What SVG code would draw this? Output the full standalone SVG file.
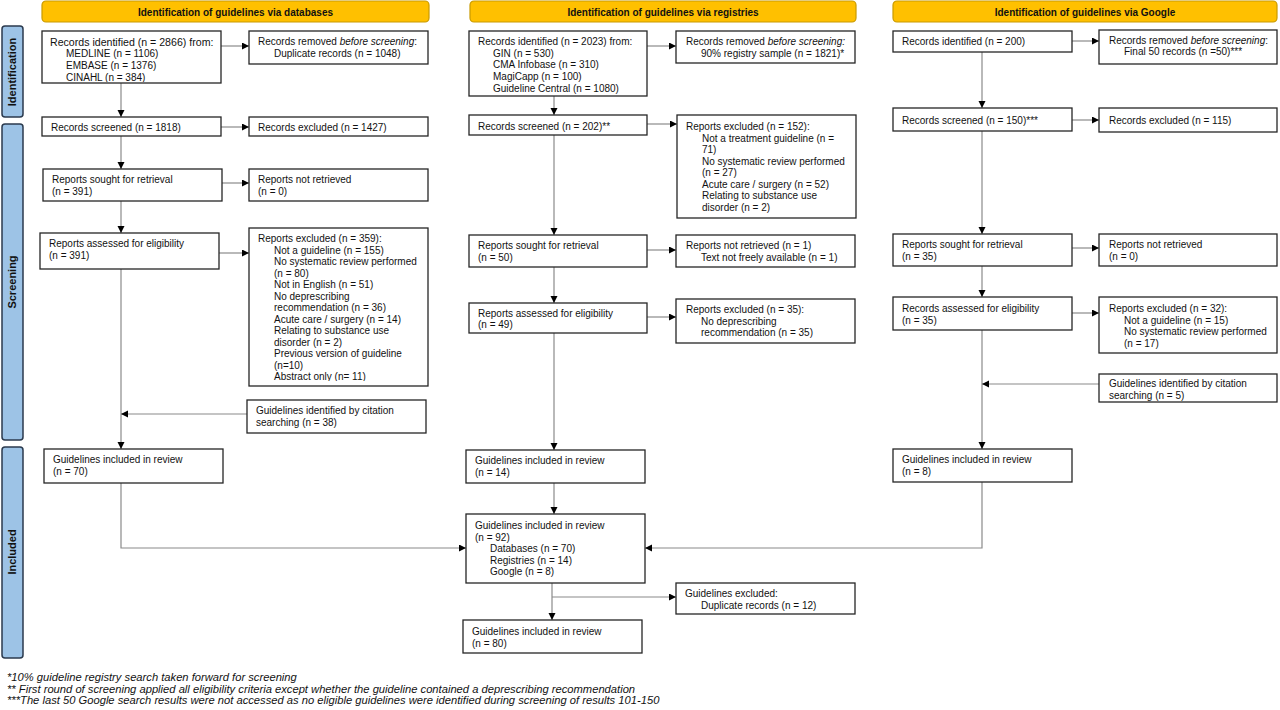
<svg xmlns="http://www.w3.org/2000/svg" width="1280" height="710" viewBox="0 0 1280 710">
<style>
.box{fill:#fff;stroke:#262626;stroke-width:1.3}
.t{font-family:"Liberation Sans",Arial,sans-serif;font-size:10px;fill:#111}
.hdr{fill:#FFC000;stroke:#C99A00;stroke-width:1.2}
.ht{font-family:"Liberation Sans",Arial,sans-serif;font-size:10px;font-weight:bold;fill:#111;text-anchor:middle}
.side{fill:#9DC3E6;stroke:#2B3A4E;stroke-width:1.5}
.st{font-family:"Liberation Sans",Arial,sans-serif;font-size:11px;font-weight:bold;fill:#111;text-anchor:middle}
.c{fill:none;stroke:#8a8a8a;stroke-width:1.2;marker-end:url(#ah)}
.fn{font-family:"Liberation Sans",Arial,sans-serif;font-size:11.2px;font-style:italic;fill:#111}
</style>
<defs>
<marker id="ah" markerUnits="userSpaceOnUse" markerWidth="8" markerHeight="8" refX="7" refY="3.5" orient="auto">
<path d="M0,0 L7,3.5 L0,7 z" fill="#000"/>
</marker>
<clipPath id="clipA1"><rect x="42" y="31" width="179" height="51"/></clipPath>
<clipPath id="clipB1"><rect x="469" y="31" width="178" height="64"/></clipPath>
<clipPath id="clipA8"><rect x="249" y="228" width="179" height="153"/></clipPath>
</defs>
<rect width="1280" height="710" fill="#fff"/>

<g id="side-labels">
<g id="side-identification"><rect class="side" x="2" y="26" width="21" height="91" rx="3"/><text class="st" transform="translate(16,72) rotate(-90)">Identification</text></g>
<g id="side-screening"><rect class="side" x="2" y="124" width="21" height="316" rx="3"/><text class="st" transform="translate(16,282) rotate(-90)">Screening</text></g>
<g id="side-included"><rect class="side" x="2" y="447" width="21" height="211" rx="3"/><text class="st" transform="translate(16,552) rotate(-90)">Included</text></g>
</g>

<g id="headers">
<g id="hdr-databases"><rect class="hdr" x="42" y="1" width="387" height="21" rx="4"/><text class="ht" x="235.5" y="15.5">Identification of guidelines via databases</text></g>
<g id="hdr-registries"><rect class="hdr" x="470" y="1" width="386" height="21" rx="4"/><text class="ht" x="663" y="15.5">Identification of guidelines via registries</text></g>
<g id="hdr-google"><rect class="hdr" x="893" y="1" width="384" height="21" rx="4"/><text class="ht" x="1085" y="15.5">Identification of guidelines via Google</text></g>
</g>

<g id="connectors">
<path class="c" d="M221,46 H249"/>
<path class="c" d="M121,83 V117"/>
<path class="c" d="M221,127 H249"/>
<path class="c" d="M121,136 V169"/>
<path class="c" d="M222,183 H249"/>
<path class="c" d="M121,201 V233"/>
<path class="c" d="M219,253 H249"/>
<path class="c" d="M121,269 V449"/>
<path class="c" d="M247,414 H121"/>
<path class="c" d="M121,483 V548 H466"/>

<path class="c" d="M647,46 H676"/>
<path class="c" d="M554,96 V115"/>
<path class="c" d="M647,124 H677"/>
<path class="c" d="M554,135 V235"/>
<path class="c" d="M647,250 H676"/>
<path class="c" d="M554,267 V303"/>
<path class="c" d="M647,317 H676"/>
<path class="c" d="M554,333 V450"/>
<path class="c" d="M554,483 V514"/>
<path class="c" d="M552,583 V620"/>
<path class="c" d="M552,597 H676"/>

<path class="c" d="M1072,41 H1099"/>
<path class="c" d="M982,52 V108"/>
<path class="c" d="M1072,120 H1099"/>
<path class="c" d="M982,131 V234"/>
<path class="c" d="M1072,248 H1099"/>
<path class="c" d="M982,266 V297"/>
<path class="c" d="M1072,313 H1099"/>
<path class="c" d="M982,330 V449"/>
<path class="c" d="M1099,384 H982"/>
<path class="c" d="M982,482 V548 H645"/>
</g>

<!-- Databases column -->
<g id="db-identified"><rect class="box" x="42" y="31" width="179" height="52"/>
<text class="t" clip-path="url(#clipA1)"><tspan x="50" y="45.5" font-size="10.6">Records identified (n = 2866) from:</tspan><tspan x="66" y="57">MEDLINE (n = 1106)</tspan><tspan x="66" y="68.5">EMBASE (n = 1376)</tspan><tspan x="66" y="80.5">CINAHL (n = 384)</tspan></text></g>
<g id="db-removed"><rect class="box" x="249" y="31" width="179" height="33"/>
<text class="t"><tspan x="258" y="45">Records removed <tspan font-style="italic">before screening</tspan>:</tspan><tspan x="274" y="56.5">Duplicate records (n = 1048)</tspan></text></g>
<g id="db-screened"><rect class="box" x="42" y="117" width="179" height="19"/>
<text class="t" x="51" y="131">Records screened (n = 1818)</text></g>
<g id="db-excluded"><rect class="box" x="249" y="117" width="179" height="19"/>
<text class="t" x="258" y="131">Records excluded (n = 1427)</text></g>
<g id="db-sought"><rect class="box" x="43" y="169" width="179" height="32"/>
<text class="t"><tspan x="52" y="183">Reports sought for retrieval</tspan><tspan x="52" y="194.5">(n = 391)</tspan></text></g>
<g id="db-notretrieved"><rect class="box" x="249" y="169" width="179" height="32"/>
<text class="t"><tspan x="258" y="183">Reports not retrieved</tspan><tspan x="258" y="194.5">(n = 0)</tspan></text></g>
<g id="db-assessed"><rect class="box" x="40" y="233" width="179" height="36"/>
<text class="t"><tspan x="49" y="247">Reports assessed for eligibility</tspan><tspan x="49" y="258.5">(n = 391)</tspan></text></g>
<g id="db-reportsexcluded"><rect class="box" x="249" y="228" width="179" height="158"/>
<text class="t" clip-path="url(#clipA8)"><tspan x="258" y="242">Reports excluded (n = 359):</tspan><tspan x="274" y="253.5">Not a guideline (n = 155)</tspan><tspan x="274" y="265">No systematic review performed</tspan><tspan x="274" y="276.5">(n = 80)</tspan><tspan x="274" y="288">Not in English (n = 51)</tspan><tspan x="274" y="299.5">No deprescribing</tspan><tspan x="274" y="311">recommendation (n = 36)</tspan><tspan x="274" y="322.5">Acute care / surgery (n = 14)</tspan><tspan x="274" y="334">Relating to substance use</tspan><tspan x="274" y="345.5">disorder (n = 2)</tspan><tspan x="274" y="357">Previous version of guideline</tspan><tspan x="274" y="368.5">(n=10)</tspan><tspan x="274" y="380">Abstract only (n= 11)</tspan></text></g>
<g id="db-citation"><rect class="box" x="247" y="400" width="179" height="33"/>
<text class="t"><tspan x="256" y="414">Guidelines identified by citation</tspan><tspan x="256" y="425.5">searching (n = 38)</tspan></text></g>
<g id="db-included"><rect class="box" x="44" y="449" width="179" height="34"/>
<text class="t"><tspan x="53" y="463">Guidelines included in review</tspan><tspan x="53" y="474.5">(n = 70)</tspan></text></g>

<!-- Registries column -->
<g id="reg-identified"><rect class="box" x="469" y="31" width="178" height="65"/>
<text class="t" clip-path="url(#clipB1)"><tspan x="478" y="45">Records identified (n = 2023) from:</tspan><tspan x="493" y="56.5">GIN (n = 530)</tspan><tspan x="493" y="68">CMA Infobase (n = 310)</tspan><tspan x="493" y="79.5">MagiCapp (n = 100)</tspan><tspan x="493" y="91.5">Guideline Central (n = 1080)</tspan></text></g>
<g id="reg-removed"><rect class="box" x="676" y="31" width="179" height="32"/>
<text class="t"><tspan x="686" y="45">Records removed <tspan font-style="italic">before screening:</tspan></tspan><tspan x="701" y="56.5">90% registry sample (n = 1821)*</tspan></text></g>
<g id="reg-screened"><rect class="box" x="469" y="115" width="178" height="20"/>
<text class="t" x="478" y="129.5">Records screened (n = 202)**</text></g>
<g id="reg-excluded"><rect class="box" x="677" y="115" width="179" height="103"/>
<text class="t"><tspan x="686" y="130">Reports excluded (n = 152):</tspan><tspan x="702" y="141.5">Not a treatment guideline (n =</tspan><tspan x="702" y="153">71)</tspan><tspan x="702" y="164.5">No systematic review performed</tspan><tspan x="702" y="176">(n = 27)</tspan><tspan x="702" y="187.5">Acute care / surgery (n = 52)</tspan><tspan x="702" y="199">Relating to substance use</tspan><tspan x="702" y="210.5">disorder (n = 2)</tspan></text></g>
<g id="reg-sought"><rect class="box" x="469" y="235" width="178" height="32"/>
<text class="t"><tspan x="478" y="249">Reports sought for retrieval</tspan><tspan x="478" y="260.5">(n = 50)</tspan></text></g>
<g id="reg-notretrieved"><rect class="box" x="676" y="235" width="179" height="32"/>
<text class="t"><tspan x="686" y="249">Reports not retrieved (n = 1)</tspan><tspan x="701" y="260.5">Text not freely available (n = 1)</tspan></text></g>
<g id="reg-assessed"><rect class="box" x="469" y="303" width="178" height="30"/>
<text class="t"><tspan x="478" y="316.5">Reports assessed for eligibility</tspan><tspan x="478" y="328">(n = 49)</tspan></text></g>
<g id="reg-reportsexcluded"><rect class="box" x="676" y="299" width="179" height="44"/>
<text class="t"><tspan x="686" y="313">Reports excluded (n = 35):</tspan><tspan x="701" y="324.5">No deprescribing</tspan><tspan x="701" y="336">recommendation (n = 35)</tspan></text></g>
<g id="reg-included"><rect class="box" x="466" y="450" width="179" height="33"/>
<text class="t"><tspan x="475" y="464">Guidelines included in review</tspan><tspan x="475" y="475.5">(n = 14)</tspan></text></g>
<g id="total-included"><rect class="box" x="466" y="514" width="179" height="69"/>
<text class="t"><tspan x="475" y="529">Guidelines included in review</tspan><tspan x="475" y="540.5">(n = 92)</tspan><tspan x="490" y="552">Databases (n = 70)</tspan><tspan x="490" y="563.5">Registries (n = 14)</tspan><tspan x="490" y="575">Google (n = 8)</tspan></text></g>
<g id="duplicates-excluded"><rect class="box" x="676" y="583" width="179" height="31"/>
<text class="t"><tspan x="685" y="597">Guidelines excluded:</tspan><tspan x="701" y="608.5">Duplicate records (n = 12)</tspan></text></g>
<g id="final-included"><rect class="box" x="463" y="620" width="179" height="33"/>
<text class="t"><tspan x="472" y="635">Guidelines included in review</tspan><tspan x="472" y="646.5">(n = 80)</tspan></text></g>

<!-- Google column -->
<g id="g-identified"><rect class="box" x="893" y="31" width="179" height="21"/>
<text class="t" x="902" y="45">Records identified (n = 200)</text></g>
<g id="g-removed"><rect class="box" x="1099" y="30" width="178" height="34"/>
<text class="t"><tspan x="1109" y="43.5">Records removed <tspan font-style="italic">before screening</tspan>:</tspan><tspan x="1124" y="55">Final 50 records (n =50)***</tspan></text></g>
<g id="g-screened"><rect class="box" x="893" y="108" width="179" height="23"/>
<text class="t" x="902" y="124">Records screened (n = 150)***</text></g>
<g id="g-excluded"><rect class="box" x="1099" y="108" width="178" height="24"/>
<text class="t" x="1109" y="124">Records excluded (n = 115)</text></g>
<g id="g-sought"><rect class="box" x="893" y="234" width="179" height="32"/>
<text class="t"><tspan x="902" y="248">Reports sought for retrieval</tspan><tspan x="902" y="259.5">(n = 35)</tspan></text></g>
<g id="g-notretrieved"><rect class="box" x="1099" y="234" width="178" height="32"/>
<text class="t"><tspan x="1109" y="248">Reports not retrieved</tspan><tspan x="1109" y="259.5">(n = 0)</tspan></text></g>
<g id="g-assessed"><rect class="box" x="893" y="297" width="179" height="33"/>
<text class="t"><tspan x="902" y="312">Records assessed for eligibility</tspan><tspan x="902" y="323.5">(n = 35)</tspan></text></g>
<g id="g-reportsexcluded"><rect class="box" x="1099" y="297" width="178" height="56"/>
<text class="t"><tspan x="1109" y="312">Reports excluded (n = 32):</tspan><tspan x="1124" y="323.5">Not a guideline (n = 15)</tspan><tspan x="1124" y="335">No systematic review performed</tspan><tspan x="1124" y="346.5">(n = 17)</tspan></text></g>
<g id="g-citation"><rect class="box" x="1099" y="374" width="178" height="28"/>
<text class="t"><tspan x="1109" y="387">Guidelines identified by citation</tspan><tspan x="1109" y="398.5">searching (n = 5)</tspan></text></g>
<g id="g-included"><rect class="box" x="893" y="449" width="179" height="33"/>
<text class="t"><tspan x="902" y="463">Guidelines included in review</tspan><tspan x="902" y="474.5">(n = 8)</tspan></text></g>

<g id="footnotes">
<text class="fn" x="7" y="681">*10% guideline registry search taken forward for screening</text>
<text class="fn" x="7" y="692.5">** First round of screening applied all eligibility criteria except whether the guideline contained a deprescribing recommendation</text>
<text class="fn" x="7" y="704">***The last 50 Google search results were not accessed as no eligible guidelines were identified during screening of results 101-150</text>
</g>
</svg>
